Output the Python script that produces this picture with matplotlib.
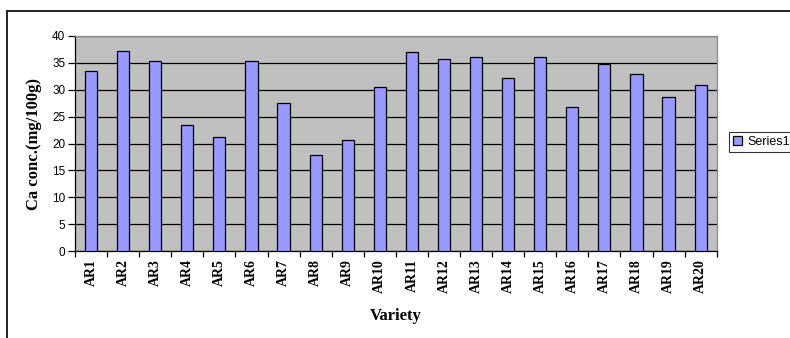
import numpy as np
import matplotlib.pyplot as plt
from matplotlib.patches import Rectangle

varieties = ["AR" + str(i) for i in range(1, 21)]
ca_conc = [33.4, 37.3, 35.4, 23.4, 21.3, 35.4, 27.5, 17.9, 20.6, 30.6,
           37.0, 35.8, 36.1, 32.1, 36.1, 26.8, 34.8, 32.9, 28.6, 30.9]
y_ticks = [0, 5, 10, 15, 20, 25, 30, 35, 40]

serif = "Liberation Serif"
sans = "Liberation Sans"

fig = plt.figure(figsize=(7.9, 3.38), dpi=100)
ax = fig.add_axes([75 / 790, 1 - 251 / 338, (716.7 - 75) / 790, (251 - 36) / 338])

# outer chart frame, runs off the right and bottom edges
fig.patches.append(Rectangle((6.5 / 790, -0.1), 1.2, 1 - 11 / 338 + 0.1,
                             transform=fig.transFigure, fill=False,
                             edgecolor="#222222", linewidth=1.4))

x = np.arange(len(varieties))
ax.set_facecolor("#C0C0C0")
ax.bar(x, ca_conc, width=0.38, color="#9999FF", edgecolor="black",
       linewidth=0.9, label="Series1", zorder=3)

ax.set_xlim(-0.5, len(varieties) - 0.5)
ax.set_ylim(0, 40)
ax.set_yticks(y_ticks)
ax.yaxis.grid(True, color="black", linewidth=0.9, zorder=1)
ax.set_axisbelow(True)

# category boundary ticks, labels sit in between
ax.set_xticks(np.arange(-0.5, len(varieties), 1.0))
ax.set_xticklabels([])
ax.set_xticks(x, minor=True)
ax.set_xticklabels(varieties, minor=True, rotation=90, fontfamily=serif,
                   fontweight="bold", fontsize=10)
ax.tick_params(axis="x", which="major", direction="out", length=4, width=0.9)
ax.tick_params(axis="x", which="minor", length=0, pad=6)
ax.tick_params(axis="y", direction="out", length=5, width=0.9, pad=2,
               labelsize=8.5)
for lbl in ax.get_yticklabels():
    lbl.set_fontfamily(sans)

for side in ["left", "bottom"]:
    ax.spines[side].set_color("black")
    ax.spines[side].set_linewidth(0.9)
for side in ["top", "right"]:
    ax.spines[side].set_color("#8C8C8C")
    ax.spines[side].set_linewidth(0.9)

ax.set_xlabel("Variety", fontfamily=serif, fontweight="bold", fontsize=12,
              labelpad=11)
ax.set_ylabel("Ca conc.(mg/100g)", fontfamily=serif, fontweight="bold",
              fontsize=12, labelpad=7)

leg = ax.legend(loc="center left", bbox_to_anchor=(729 / 790, 1 - 142 / 338),
                bbox_transform=fig.transFigure, frameon=True, fancybox=False,
                prop={"family": sans, "size": 9}, handlelength=0.7,
                handleheight=0.7, handletextpad=0.4, borderpad=0.35,
                borderaxespad=0)
leg.get_frame().set_edgecolor("black")
leg.get_frame().set_linewidth(0.8)

fig.savefig("out.png", dpi=100)
